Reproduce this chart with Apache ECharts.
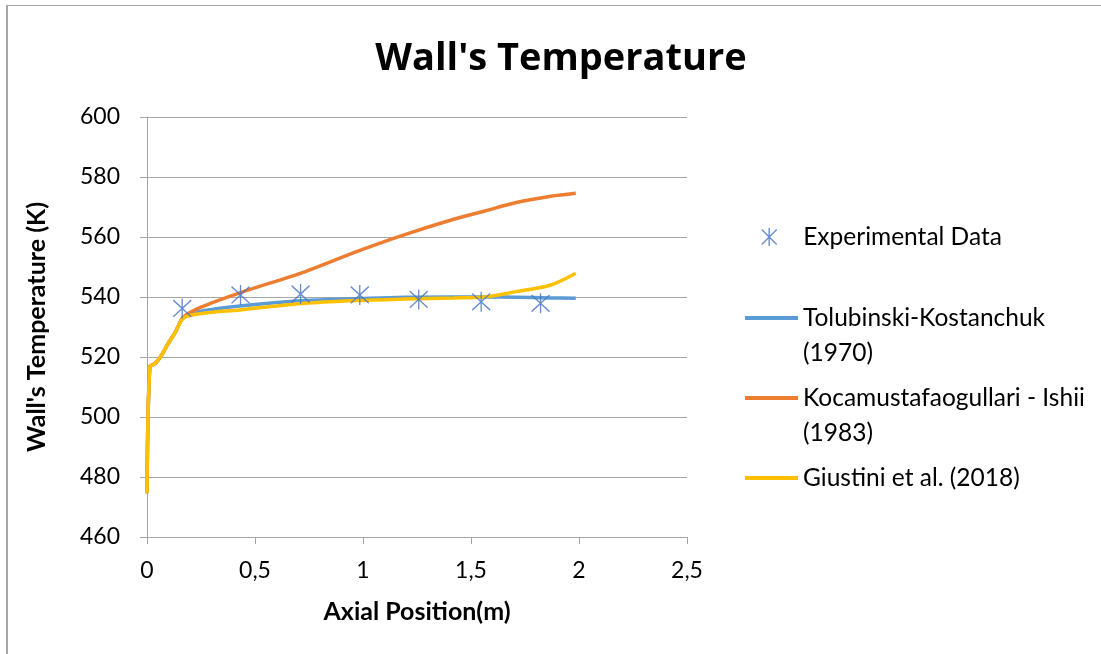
<!DOCTYPE html>
<html>
<head>
<meta charset="utf-8">
<script src="https://cdn.jsdelivr.net/npm/echarts@6/dist/echarts.min.js"></script>
<style>html,body{margin:0;padding:0;background:#fff}#c{width:1101px;height:654px}</style>
</head>
<body>
<div id="c"></div>
<script>
// ---- data ----
const xTicks = [0, 0.5, 1, 1.5, 2, 2.5];
const yTicks = [460, 480, 500, 520, 540, 560, 580, 600];

const xExperimental = [0.163, 0.433, 0.711, 0.985, 1.258, 1.547, 1.822];
const yExperimental = [536.2, 540.7, 541.0, 540.7, 539.2, 538.4, 537.9];

const xModel = [0, 0.013, 0.035, 0.063, 0.094, 0.132, 0.17, 0.26, 0.43, 0.73, 0.97, 1.19, 1.42, 1.56, 1.71, 1.87, 1.985];
const yTolubinski = [474.6, 516.8, 517.7, 520.1, 524.0, 528.4, 533.4, 535.4, 537.0, 538.8, 539.4, 539.9, 540.0, 540.0, 539.9, 539.7, 539.6];
const yKocamustafa = [474.6, 516.8, 517.7, 520.1, 524.0, 528.4, 533.4, 536.9, 541.4, 548.4, 555.1, 560.7, 565.9, 568.6, 571.5, 573.6, 574.6];
const yGiustini = [474.6, 516.8, 517.7, 520.1, 524.0, 528.4, 533.0, 534.6, 535.7, 537.9, 538.8, 539.3, 539.7, 540.0, 541.8, 544.0, 547.9];

const names = ['Experimental Data', 'Tolubinski-Kostanchuk (1970)', 'Kocamustafaogullari - Ishii (1983)', 'Giustini et al. (2018)'];
const legendLabels = ['Experimental Data', '\nTolubinski-Kostanchuk\n(1970)', '\nKocamustafaogullari - Ishii\n(1983)', 'Giustini et al. (2018)'];

const pair = (xs, ys) => xs.map((x, i) => [x, ys[i]]);

const FONT = 'Lato';
const STAR = 'path://M0,0 L10,10 M10,0 L0,10 M5,-1 L5,11';
const expColor = '#4472C4';
const lineColors = ['#5B9BD5', '#ED7D31', '#FFC000'];
const LH = 35;

function legendFor(i, left, top) {
  const isExp = i === 0;
  return {
    left: left, top: top, padding: 0, selectedMode: false,
    itemWidth: isExp ? 18 : 53, itemHeight: isExp ? 18 : 4,
    data: [{
      name: names[i],
      icon: isExp ? STAR : 'rect',
      itemStyle: isExp ? {color: 'transparent', borderColor: expColor, borderWidth: 1.4}
                       : {color: lineColors[i - 1], borderWidth: 0}
    }],
    formatter: () => legendLabels[i],
    textStyle: {fontFamily: FONT, fontSize: 24.5, color: '#000', lineHeight: LH,
      padding: isExp ? [0, 0, 0, 20] : 0}
  };
}

const chart = echarts.init(document.getElementById('c'), null, {renderer: 'canvas'});
chart.setOption({
  animation: false,
  backgroundColor: '#fff',
  title: {
    text: "Wall's Temperature", left: 561, top: 40, padding: 0,
    textAlign: 'center',
    textStyle: {fontFamily: 'Open Sans', fontSize: 38, fontWeight: 'bold', color: '#000'}
  },
  graphic: [
    {type: 'line', shape: {x1: 7, y1: 5, x2: 7, y2: 660}, style: {stroke: '#A6A6A6', lineWidth: 2}},
    {type: 'line', shape: {x1: 6, y1: 5.5, x2: 1110, y2: 5.5}, style: {stroke: '#A6A6A6', lineWidth: 1}}
  ],
  legend: [
    legendFor(0, 761, 237 - LH / 2),
    legendFor(1, 745, 318 - 1.5 * LH),
    legendFor(2, 745, 398 - 1.5 * LH),
    legendFor(3, 745, 478 - LH / 2)
  ],
  grid: {left: 147, right: 414, top: 117, bottom: 117},
  xAxis: {
    type: 'value', min: xTicks[0], max: xTicks[xTicks.length - 1], interval: 0.5,
    name: 'Axial Position(m)', nameLocation: 'middle', nameGap: 62,
    nameTextStyle: {fontFamily: FONT, fontSize: 25, fontWeight: 'bold', color: '#000'},
    axisLine: {show: true, lineStyle: {color: '#A6A6A6', width: 1}},
    axisTick: {show: true, length: 7, lineStyle: {color: '#A6A6A6'}},
    splitLine: {show: false},
    axisLabel: {fontFamily: FONT, fontSize: 23, color: '#000', margin: 22,
      formatter: v => String(v).replace('.', ',')}
  },
  yAxis: {
    type: 'value', min: yTicks[0], max: yTicks[yTicks.length - 1], interval: 20,
    name: "Wall's Temperature (K)", nameLocation: 'middle', nameGap: 98, nameRotate: 90,
    nameTextStyle: {fontFamily: FONT, fontSize: 25, fontWeight: 'bold', color: '#000'},
    axisLine: {show: true, lineStyle: {color: '#A6A6A6', width: 1}},
    axisTick: {show: true, length: 7, lineStyle: {color: '#A6A6A6'}},
    splitLine: {show: true, lineStyle: {color: '#A6A6A6', width: 1}},
    axisLabel: {fontFamily: FONT, fontSize: 23, color: '#000', margin: 27}
  },
  series: [
    {
      name: names[0], type: 'scatter', data: pair(xExperimental, yExperimental),
      symbol: STAR, symbolSize: [18, 20], z: 5,
      itemStyle: {color: 'transparent', borderColor: expColor, borderWidth: 1.4}
    },
    {
      name: names[1], type: 'line', data: pair(xModel, yTolubinski),
      showSymbol: false, smooth: 0.3,
      lineStyle: {color: lineColors[0], width: 3.5}, itemStyle: {color: lineColors[0]}, z: 2
    },
    {
      name: names[2], type: 'line', data: pair(xModel, yKocamustafa),
      showSymbol: false, smooth: 0.3,
      lineStyle: {color: lineColors[1], width: 3.5}, itemStyle: {color: lineColors[1]}, z: 3
    },
    {
      name: names[3], type: 'line', data: pair(xModel, yGiustini),
      showSymbol: false, smooth: 0.3,
      lineStyle: {color: lineColors[2], width: 3.5}, itemStyle: {color: lineColors[2]}, z: 4
    }
  ]
});
</script>
</body>
</html>
